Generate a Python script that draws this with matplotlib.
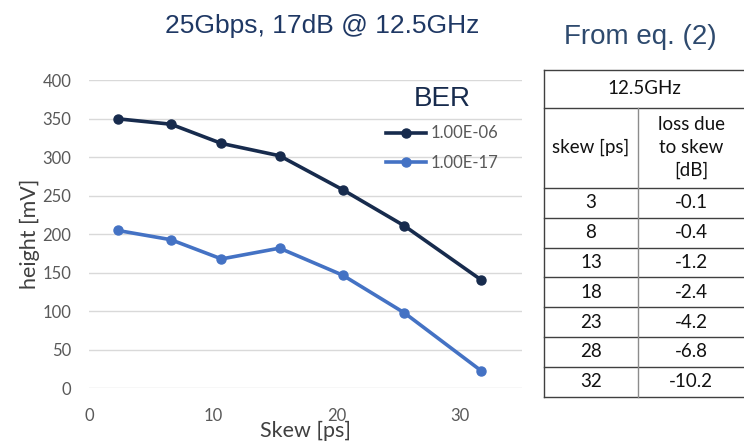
import matplotlib
matplotlib.use("Agg")
import matplotlib.pyplot as plt
from matplotlib.lines import Line2D

# eye height vs. skew for two BER targets
skew_ps = [2.3, 6.6, 10.7, 15.4, 20.5, 25.5, 31.7]
height_1e6 = [350, 343, 318, 302, 258, 211, 141]
height_1e17 = [205, 193, 168, 182, 147, 98, 23]
ber_labels = ["1.00E-06", "1.00E-17"]

# loss table, from eq. (2)
table_freq = "12.5GHz"
table_skew = ["3", "8", "13", "18", "23", "28", "32"]
table_loss = ["-0.1", "-0.4", "-1.2", "-2.4", "-4.2", "-6.8", "-10.2"]

navy = "#172b4d"
blue = "#4472c4"
grey_txt = "#595959"

W, H = 744, 443
fig = plt.figure(figsize=(W / 100, H / 100), dpi=100)
ax = fig.add_axes([89.3 / W, 1 - 388.3 / H, (521.7 - 89.3) / W, 308 / H])

ax.plot(skew_ps, height_1e6, "-o", color=navy, lw=2.6, ms=6.5, label=ber_labels[0])
ax.plot(skew_ps, height_1e17, "-o", color=blue, lw=2.6, ms=6.5, label=ber_labels[1])

ax.set_xlim(0, 35)
ax.set_ylim(0, 400)
ax.set_xticks([0, 10, 20, 30])
ax.set_yticks(range(0, 401, 50))
ax.grid(axis="y", color="#d9d9d9", lw=1)
ax.set_axisbelow(True)
for s in ax.spines.values():
    s.set_visible(False)
ax.tick_params(length=0, labelsize=12, labelcolor=grey_txt)
ax.tick_params(axis="y", pad=13)
ax.tick_params(axis="x", pad=14)
for t in ax.get_xticklabels() + ax.get_yticklabels():
    t.set_family("Lato")

ax.set_xlabel("Skew [ps]", fontsize=15.5, color="#404040", family="Lato", labelpad=-2)
ax.set_ylabel("height [mV]", fontsize=15.5, color="#404040", family="Lato", labelpad=2)

leg = ax.legend(title="BER", loc="upper left", bbox_to_anchor=((371 - 89.3) / 432.4, 1.03),
                frameon=False, fontsize=12, title_fontsize=20,
                handlelength=2.4, handletextpad=0.3, labelspacing=0.8)
leg.get_title().set_color(navy)
leg.get_title().set_family("Liberation Sans")
for t in leg.get_texts():
    t.set_color(grey_txt)
    t.set_family("Lato")

fig.text(322 / W, 1 - 26 / H, "25Gbps, 17dB @ 12.5GHz", ha="center", va="center",
         fontsize=19, color="#1f3864", family="Liberation Sans")
fig.text(640 / W, 1 - 37 / H, "From eq. (2)", ha="center", va="center",
         fontsize=20, color="#2e4a6e", family="Liberation Sans")


# table drawn with lines in pixel coordinates
def fx(px):
    return px / W


def fy(py):
    return 1 - py / H


def hline(y, x0, x1):
    fig.add_artist(Line2D([fx(x0), fx(x1)], [fy(y), fy(y)], color="#404040", lw=1))


def vline(x, y0, y1, color="#404040"):
    fig.add_artist(Line2D([fx(x), fx(x)], [fy(y0), fy(y1)], color=color, lw=1))


left, mid, right = 544, 638, 744
top, head1, head2 = 70, 107.5, 188
row_h = 29.8
bottom = head2 + row_h * len(table_skew)

hline(top, left, right)
hline(head1, left, right)
hline(head2, left, right)
for i in range(len(table_skew)):
    hline(head2 + row_h * (i + 1), left, right)
vline(left, top, bottom)
vline(mid, head1, bottom, color="#8c8c8c")

tkw = dict(ha="center", va="center", fontsize=13.5, color="#111111", family="Lato")
fig.text(fx((left + right) / 2), fy((top + head1) / 2), table_freq, **tkw)
fig.text(fx((left + mid) / 2), fy((head1 + head2) / 2), "skew [ps]", **tkw)
fig.text(fx((mid + right) / 2), fy((head1 + head2) / 2), "loss due\nto skew\n[dB]",
         linespacing=1.4, **tkw)
for i, (s, l) in enumerate(zip(table_skew, table_loss)):
    yc = head2 + row_h * (i + 0.5)
    fig.text(fx((left + mid) / 2), fy(yc), s, **tkw)
    fig.text(fx((mid + right) / 2), fy(yc), l, **tkw)

fig.savefig("out.png", dpi=100)
